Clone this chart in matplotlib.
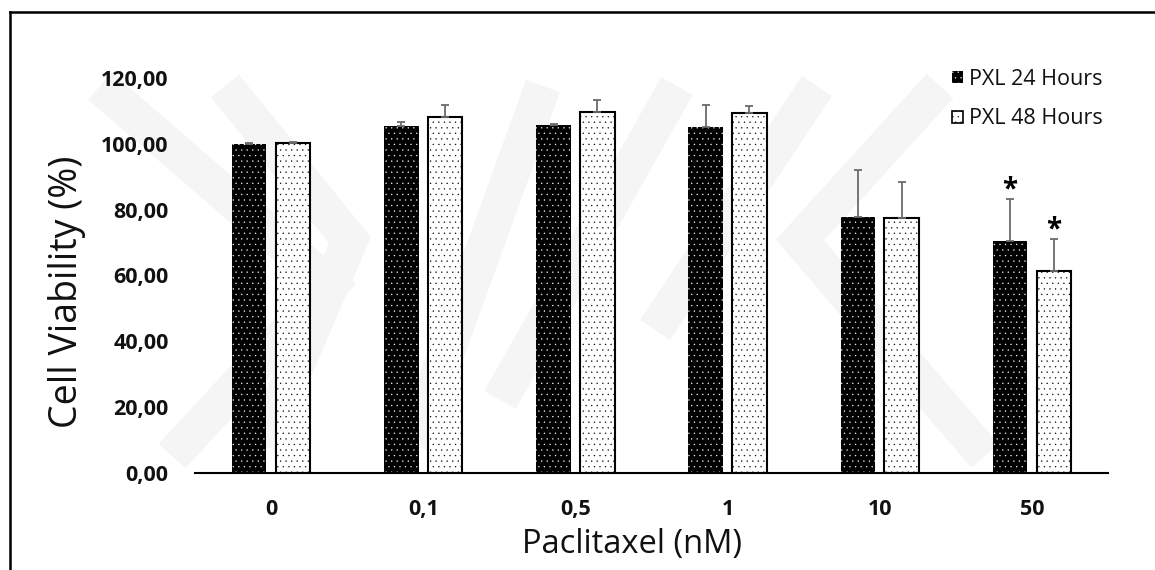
import matplotlib
matplotlib.use("Agg")
import matplotlib.pyplot as plt
from matplotlib.patches import Patch
from matplotlib.lines import Line2D
import numpy as np

# ---- data ----
categories = ["0", "0,1", "0,5", "1", "10", "50"]
series_names = ["PXL 24 Hours", "PXL 48 Hours"]
viab_24h = [100.0, 105.5, 105.8, 105.1, 77.9, 70.4]
err_24h = [0.3, 1.0, 0.3, 6.8, 14.2, 12.9]
viab_48h = [100.2, 108.1, 109.8, 109.5, 77.4, 61.5]
err_48h = [0.3, 3.8, 3.6, 2.1, 10.9, 9.5]
sig_24h = [False, False, False, False, False, True]
sig_48h = [False, False, False, False, False, True]
yticks = [0, 20, 40, 60, 80, 100, 120]

W, H = 1155, 570
plt.rcParams['font.family'] = ['Open Sans', 'DejaVu Sans']
plt.rcParams['hatch.linewidth'] = 0.2

fig = plt.figure(figsize=(W / 100, H / 100), dpi=100)

def px(x, y):
    return x / W, 1 - y / H

# faint watermark (decorative background)
wm_color = '#f5f5f5'
wm_paths = [
    [(100, 86), (330, 285), (172, 456)],
    [(225, 86), (350, 240), (262, 445)],
    [(543, 86), (413, 445)],
    [(677, 86), (500, 400)],
    [(940, 86), (800, 240), (985, 456)],
    [(817, 86), (655, 330)],
]
for path in wm_paths:
    xs = [px(a, b)[0] for a, b in path]
    ys = [px(a, b)[1] for a, b in path]
    fig.add_artist(Line2D(xs, ys, color=wm_color, linewidth=26,
                          solid_capstyle='butt', solid_joinstyle='miter',
                          zorder=0))

# frame lines (left and top)
fig.add_artist(Line2D([px(10, 0)[0]] * 2, [0, px(0, 12)[1]], color='black',
                      linewidth=1.8, zorder=1))
fig.add_artist(Line2D([px(10, 0)[0], 1], [px(0, 12)[1]] * 2, color='black',
                      linewidth=1.8, zorder=1))

l, r = 195 / W, 1108 / W
b, t = 1 - 473 / H, 1 - 78 / H
ax = fig.add_axes([l, b, r - l, t - b])
ax.patch.set_alpha(0)

x = np.arange(len(categories))
width = 0.226
off = 0.144

ax.bar(x - off, viab_24h, width, color='black', edgecolor='white',
       hatch='...', linewidth=0, zorder=2)
ax.bar(x + off, viab_48h, width, facecolor='white', edgecolor='black',
       hatch='...', linewidth=1.5, zorder=2)

zeros = np.zeros(len(categories))
ax.errorbar(x - off, viab_24h, yerr=[zeros, err_24h], fmt='none',
            ecolor='#6b6b6b', elinewidth=1.3, capsize=3.2, capthick=1.3, zorder=3)
ax.errorbar(x + off, viab_48h, yerr=[zeros, err_48h], fmt='none',
            ecolor='#6b6b6b', elinewidth=1.3, capsize=3.2, capthick=1.3, zorder=3)

for xs_, vals, errs, sigs in [(x - off, viab_24h, err_24h, sig_24h),
                              (x + off, viab_48h, err_48h, sig_48h)]:
    for xi, v, e, s in zip(xs_, vals, errs, sigs):
        if s:
            ax.annotate('*', xy=(xi, v + e), xytext=(0, 1),
                        textcoords='offset points', ha='center', va='baseline',
                        fontsize=20, fontweight='bold', color='black')

ax.set_xlim(-0.5, len(categories) - 0.5)
ax.set_ylim(0, 120)
ax.set_yticks(yticks)
ax.set_yticklabels([f"{v:.2f}".replace('.', ',') for v in yticks])
ax.set_xticks(x)
ax.set_xticklabels(categories)
for side in ['left', 'right', 'top']:
    ax.spines[side].set_visible(False)
ax.spines['bottom'].set_linewidth(1.5)
ax.spines['bottom'].set_zorder(4)
ax.tick_params(axis='both', length=0, labelsize=15.5)
ax.tick_params(axis='y', pad=19)
ax.tick_params(axis='x', pad=19)
for lab in ax.get_xticklabels() + ax.get_yticklabels():
    lab.set_fontweight('bold')
    lab.set_color('#111111')

fig.text(px(67, 0)[0], px(0, 292)[1], 'Cell Viability (%)', rotation=90,
         ha='center', va='center', fontsize=27, color='#111111')
fig.text(px(632, 0)[0], px(0, 545)[1], 'Paclitaxel (nM)', ha='center',
         va='center', fontsize=23.5, color='#111111')

handles = [Patch(facecolor='black', edgecolor='white', hatch='...', linewidth=0),
           Patch(facecolor='white', edgecolor='black', hatch='...', linewidth=1.2)]
leg = ax.legend(handles, series_names, loc='upper left',
                bbox_to_anchor=px(952, 69), bbox_transform=fig.transFigure,
                frameon=False, fontsize=15.5, handlelength=0.5, handleheight=0.5,
                handletextpad=0.3, labelspacing=0.85, borderpad=0, borderaxespad=0)
for txt in leg.get_texts():
    txt.set_color('#111111')

fig.savefig('out.png', dpi=100, facecolor='white')
